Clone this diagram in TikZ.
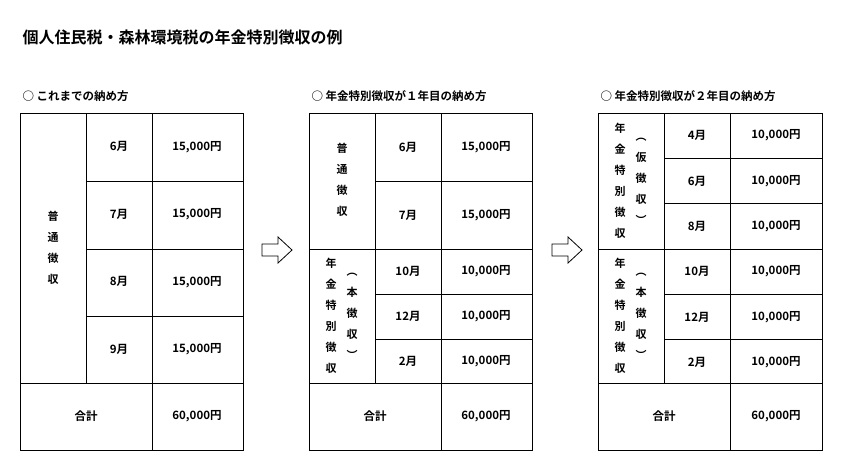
\documentclass[tikz,border=0pt]{standalone}
\usepackage{fontspec}
\setmainfont{Noto Sans CJK JP}[BoldFont={* Bold}]
\begin{document}
\begin{tikzpicture}[x=1pt,y=-1pt,font=\bfseries\fontsize{11.5}{13}\selectfont,
  cell/.style={anchor=center},
  vcol/.style={anchor=center,align=center,font=\bfseries\fontsize{11}{21}\selectfont},
  head/.style={anchor=west},
  grid/.style={line width=0.8pt},
  hollow/.style={draw,line width=0.8pt,fill=white}]
  \useasboundingbox (0,0) rectangle (850,472);
  % Title and headings
  \node[head,font=\bfseries\fontsize{16}{19}\selectfont] (title) at (19,37) {個人住民税・森林環境税の年金特別徴収の例};
  \node[head] (h1) at (19,96) {○ これまでの納め方};
  \node[head] (h2) at (308,96) {○ 年金特別徴収が１年目の納め方};
  \node[head] (h3) at (597,96) {○ 年金特別徴収が２年目の納め方};

  % Table 1
  \draw[grid] (20,113) rectangle (243,450);
  \draw[grid] (86,113) -- (86,383) (152,113) -- (152,450) (20,383) -- (243,383);
  \foreach \y in {181,249,316} \draw[grid] (86,\y) -- (243,\y);
  \foreach \m [count=\i] in {6,7,8,9} {
    \node[cell] (ta\i) at (119,113+67.5*\i-33.75) {\m 月};
    \node[cell] (tb\i) at (197,113+67.5*\i-33.75) {15,000円};
  }
  \node[vcol] (ta) at (53,248) {普\\通\\徴\\収};
  \node[cell] (tasum) at (86,416) {合計};
  \node[cell] (tbsum) at (197,416) {60,000円};

  % Table 2
  \draw[grid] (309,113) rectangle (532,450);
  \draw[grid] (375,113) -- (375,383) (441,113) -- (441,450) (309,383) -- (532,383) (309,249) -- (532,249);
  \draw[grid] (375,181) -- (532,181);
  \foreach \y in {294,339} \draw[grid] (375,\y) -- (532,\y);
  \node[cell] (ua1) at (408,147) {6月};
  \node[cell] (ub1) at (486,147) {15,000円};
  \node[cell] (ua2) at (408,215) {7月};
  \node[cell] (ub2) at (486,215) {15,000円};
  \foreach \m [count=\i] in {10,12,2} {
    \node[cell] (uc\i) at (408,249+45*\i-22.5) {\m 月};
    \node[cell] (ud\i) at (486,249+45*\i-22.5) {10,000円};
  }
  \node[vcol] (uf) at (342,180) {普\\通\\徴\\収};
  \node[vcol] (ug) at (331,316) {年\\金\\特\\別\\徴\\収};
  \node[vcol] (uh) at (352,316) {︵\\本\\徴\\収\\︶};
  \node[cell] (usum) at (375,416) {合計};
  \node[cell] (uval) at (486,416) {60,000円};

  % Table 3
  \draw[grid] (598,113) rectangle (822,450);
  \draw[grid] (664,113) -- (664,383) (730,113) -- (730,450) (598,383) -- (822,383) (598,249) -- (822,249);
  \foreach \y in {158,203,294,339} \draw[grid] (664,\y) -- (822,\y);
  \foreach \m [count=\i] in {4,6,8,10,12,2} {
    \node[cell] (va\i) at (697,113+45.3*\i-22.6) {\m 月};
    \node[cell] (vb\i) at (776,113+45.3*\i-22.6) {10,000円};
  }
  \node[vcol] (vf) at (620,181) {年\\金\\特\\別\\徴\\収};
  \node[vcol] (vg) at (641,181) {︵\\仮\\徴\\収\\︶};
  \node[vcol] (vh) at (620,316) {年\\金\\特\\別\\徴\\収};
  \node[vcol] (vi) at (641,316) {︵\\本\\徴\\収\\︶};
  \node[cell] (vsum) at (664,416) {合計};
  \node[cell] (vval) at (776,416) {60,000円};

  % Hollow arrows
  \foreach \x in {262,552}
    \draw[hollow] (\x,244) -- (\x+16,244) -- (\x+16,237) -- (\x+30,250)
      -- (\x+16,263) -- (\x+16,256) -- (\x,256) -- cycle;
\end{tikzpicture}
\end{document}
